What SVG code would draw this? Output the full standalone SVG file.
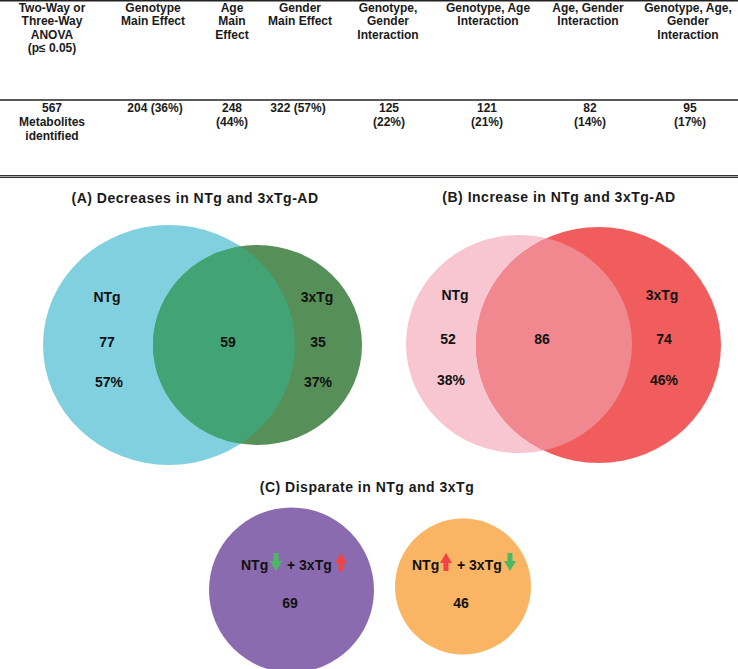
<svg xmlns="http://www.w3.org/2000/svg" width="738" height="669" viewBox="0 0 738 669">
<style>
.h{font-family:"Liberation Sans",Arial,sans-serif;font-weight:bold;font-size:12px;fill:#1a1a1a;text-anchor:middle}
.t{font-family:"Liberation Sans",Arial,sans-serif;font-weight:bold;font-size:14px;letter-spacing:0.5px;fill:#1a1a1a;text-anchor:middle}
.v{font-family:"Liberation Sans",Arial,sans-serif;font-weight:bold;font-size:14px;fill:#111;text-anchor:middle}
.s{font-family:"Liberation Sans",Arial,sans-serif;font-weight:bold;font-size:14px;fill:#111}
</style>
<defs>
<path id="adn" d="M-2.5,0 H2.5 V8 H6 L0,18 L-6,8 H-2.5 Z" fill="#4DB864"/>
<path id="aup" d="M0,0 L6,10 H2.5 V18 H-2.5 V10 H-6 Z" fill="#EE4444"/>
<clipPath id="clipGreen"><ellipse cx="257.5" cy="345" rx="104.5" ry="100"/></clipPath>
<clipPath id="clipRed"><ellipse cx="598.5" cy="345" rx="122.5" ry="118"/></clipPath>
</defs>
<rect width="738" height="669" fill="#fff"/>

<g id="table">
<line x1="0" y1="0.8" x2="738" y2="0.8" stroke="#222" stroke-width="1.6"/>
<line x1="0" y1="100" x2="738" y2="100" stroke="#222" stroke-width="1.6"/>
<line x1="0" y1="176.5" x2="738" y2="176.5" stroke="#333" stroke-width="3.2"/>
<line x1="0" y1="176.5" x2="738" y2="176.5" stroke="#aaa" stroke-width="1"/>
<text class="h"><tspan x="52" y="11.5">Two-Way or</tspan><tspan x="52" y="25">Three-Way</tspan><tspan x="52" y="38.5">ANOVA</tspan><tspan x="52" y="52">(p≤ 0.05)</tspan></text>
<text class="h"><tspan x="153" y="11.5">Genotype</tspan><tspan x="153" y="25">Main Effect</tspan></text>
<text class="h"><tspan x="232" y="11.5">Age</tspan><tspan x="232" y="25">Main</tspan><tspan x="232" y="38.5">Effect</tspan></text>
<text class="h"><tspan x="300" y="11.5">Gender</tspan><tspan x="300" y="25">Main Effect</tspan></text>
<text class="h"><tspan x="388" y="11.5">Genotype,</tspan><tspan x="388" y="25">Gender</tspan><tspan x="388" y="38.5">Interaction</tspan></text>
<text class="h"><tspan x="488" y="11.5">Genotype, Age</tspan><tspan x="488" y="25">Interaction</tspan></text>
<text class="h"><tspan x="588" y="11.5">Age, Gender</tspan><tspan x="588" y="25">Interaction</tspan></text>
<text class="h"><tspan x="688" y="11.5">Genotype, Age,</tspan><tspan x="688" y="25">Gender</tspan><tspan x="688" y="38.5">Interaction</tspan></text>
<text class="h"><tspan x="52" y="112">567</tspan><tspan x="52" y="126">Metabolites</tspan><tspan x="52" y="140">identified</tspan></text>
<text class="h" x="155" y="112">204 (36%)</text>
<text class="h"><tspan x="232" y="112">248</tspan><tspan x="232" y="126">(44%)</tspan></text>
<text class="h" x="298" y="112">322 (57%)</text>
<text class="h"><tspan x="389" y="112">125</tspan><tspan x="389" y="126">(22%)</tspan></text>
<text class="h"><tspan x="487" y="112">121</tspan><tspan x="487" y="126">(21%)</tspan></text>
<text class="h"><tspan x="590" y="112">82</tspan><tspan x="590" y="126">(14%)</tspan></text>
<text class="h"><tspan x="690" y="112">95</tspan><tspan x="690" y="126">(17%)</tspan></text>
</g>

<g id="vennA">
<text class="t" x="195" y="203">(A) Decreases in NTg and 3xTg-AD</text>
<ellipse id="A-NTg" cx="169" cy="345" rx="126" ry="120" fill="#80D0E0"/>
<ellipse id="A-3xTg" cx="257.5" cy="345" rx="104.5" ry="100" fill="#568F57"/>
<ellipse cx="169" cy="345" rx="126" ry="120" fill="#42A474" clip-path="url(#clipGreen)"/>
<text class="v" x="107" y="302">NTg</text>
<text class="v" x="107" y="347">77</text>
<text class="v" x="109" y="387">57%</text>
<text class="v" x="228" y="347">59</text>
<text class="v" x="317" y="302">3xTg</text>
<text class="v" x="318" y="347">35</text>
<text class="v" x="318" y="387">37%</text>
</g>

<g id="vennB">
<text class="t" x="559" y="202">(B) Increase in NTg and 3xTg-AD</text>
<ellipse id="B-NTg" cx="519" cy="344" rx="113" ry="109" fill="#F7C6D1"/>
<ellipse id="B-3xTg" cx="598.5" cy="345" rx="122.5" ry="118" fill="#F05D5C"/>
<ellipse cx="519" cy="344" rx="113" ry="109" fill="#F2888F" clip-path="url(#clipRed)"/>
<text class="v" x="455" y="300">NTg</text>
<text class="v" x="448" y="344">52</text>
<text class="v" x="451" y="385">38%</text>
<text class="v" x="542" y="344">86</text>
<text class="v" x="662" y="300">3xTg</text>
<text class="v" x="664" y="344">74</text>
<text class="v" x="664" y="385">46%</text>
</g>

<g id="disparate">
<text class="t" x="367" y="492">(C) Disparate in NTg and 3xTg</text>
<g id="C-down-up">
<circle cx="291.5" cy="590" r="82.5" fill="#8B6BAF"/>
<text class="s" x="241" y="570">NTg</text>
<use href="#adn" x="276" y="553"/>
<text class="s" x="287" y="570">+ 3xTg</text>
<use href="#aup" x="341" y="553"/>
<text class="v" x="290" y="608">69</text>
</g>
<g id="C-up-down">
<circle cx="463" cy="586.5" r="68" fill="#F9B563"/>
<text class="s" x="412" y="570">NTg</text>
<use href="#aup" x="446" y="553"/>
<text class="s" x="457" y="570">+ 3xTg</text>
<use href="#adn" x="510" y="553"/>
<text class="v" x="461" y="608">46</text>
</g>
</g>
</svg>
